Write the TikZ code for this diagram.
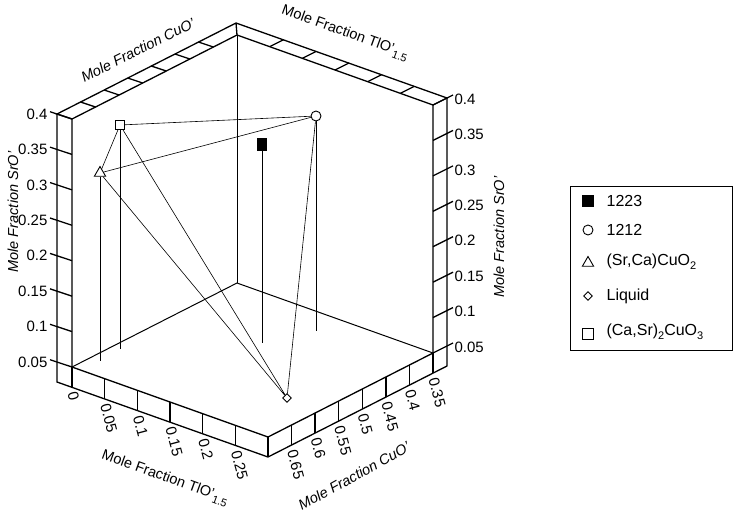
\documentclass[tikz,border=0pt]{standalone}
\usepackage{fontspec}
\setmainfont{Liberation Sans}
\usetikzlibrary{calc,shapes.geometric}
\newcommand{\sbs}[1]{\raisebox{-0.45ex}{\fontsize{11}{12}\selectfont #1}}
\begin{document}
\begin{tikzpicture}[x=1pt,y=-1pt,line width=1.2pt,
  frame/.style={line width=1.3pt},
  thinl/.style={line width=0.6pt},
  ticklab/.style={font=\fontsize{15}{17}\selectfont,inner sep=1pt},
  axlab/.style={font=\fontsize{14.5}{17}\selectfont,inner sep=0pt},
  mk/.style={draw,fill=white,inner sep=0pt,line width=0.9pt},
  sqm/.style={mk,rectangle,minimum size=9pt},
  fsqm/.style={mk,rectangle,fill=black,minimum width=9pt,minimum height=12pt},
  cim/.style={mk,circle,minimum size=10pt},
  trm/.style={mk,regular polygon,regular polygon sides=3,minimum size=13pt},
  dim/.style={mk,diamond,minimum size=9pt},
  entry/.style={font=\fontsize{16}{18}\selectfont,anchor=west,inner sep=0pt}]
\useasboundingbox (0,0) rectangle (735,515);
% frame
\draw[frame] (57,114)--(57,382)--(268,457)--(447,366)--(447,98);
\draw[frame] (72,119)--(72,367)--(268,437)--(433,353)--(433,105);
\draw[frame] (268,437)--(268,457);
\draw[frame] (57,114)--(72,119)--(237,35)--(433,105)--(447,98)--(236,23)--cycle;
\draw[frame] (237,35)--(236,23);
\draw[line width=1pt] (72,367)--(237,283)--(433,353);
\draw[line width=1pt] (237,35)--(237,283);
% top strip ticks
\foreach \c in {0.4,0.45,...,0.66}{
  \pgfmathsetmacro\px{72+471.43*(0.7-\c)}
  \pgfmathsetmacro\py{119-240*(0.7-\c)}
  \draw[frame] (\px,\py)--++(-15,-5);}
\foreach \t in {0.05,0.1,...,0.26}{
  \pgfmathsetmacro\px{237+653.33*\t}
  \pgfmathsetmacro\py{35+233.33*\t}
  \draw[frame] (\px,\py)--++(14,-7);}
% SrO ticks and labels
\foreach \v [count=\k from 0] in {0.05,0.1,0.15,0.2,0.25,0.3,0.35,0.4}{
  \pgfmathsetmacro\ly{362-35.43*\k}
  \pgfmathsetmacro\ry{346-35.43*\k}
  \draw[frame] (50,\ly-2.3)--(72,\ly+5);
  \node[ticklab,anchor=east] (zl\k) at (49,\ly) {\v};
  \draw[frame] (433,\ry+7)--(447,\ry)--(453,\ry-3);
  \node[ticklab,anchor=west] (zr\k) at (453,\ry+1) {\v};}
% TlO floor ticks
\foreach \v [count=\k from 0] in {0,0.05,0.1,0.15,0.2,0.25}{
  \pgfmathsetmacro\px{72+653.33*\v}
  \pgfmathsetmacro\py{367+233.33*\v}
  \draw[frame] (\px,\py)--(\px,\py+20);
  \node[ticklab,anchor=west,rotate=-75] (tl\k) at (\px,\py+24) {\v};}
% CuO floor ticks
\foreach \v [count=\k from 0] in {0.65,0.6,0.55,0.5,0.45,0.4,0.35}{
  \pgfmathsetmacro\px{268+471.43*(0.7-\v)}
  \pgfmathsetmacro\py{437-240*(0.7-\v)}
  \draw[frame] (\px,\py)--(\px,\py+20);
  \node[ticklab,anchor=west,rotate=-75] (cu\k) at (\px,\py+24) {\v};}
% axis titles
\node[axlab,rotate=26.5] (tcu) at (138,50) {\itshape Mole Fraction CuO'};
\node[axlab,rotate=-20] (ttl) at (345,33) {Mole Fraction TlO'\sbs{1.5}};
\node[axlab,rotate=-20] (btl) at (165,478) {Mole Fraction TlO'\sbs{1.5}};
\node[axlab,rotate=29] (bcu) at (354,476) {\itshape Mole Fraction CuO'};
\node[axlab,rotate=90] (lsr) at (13,212) {\itshape Mole Fraction SrO'};
\node[axlab,rotate=90] (rsr) at (499,237) {\itshape Mole Fraction SrO'};
% data
\node[sqm] (sq) at (120,125) {};
\node[trm] (tri) at (100,173) {};
\node[cim] (ci) at (316,116) {};
\node[fsqm] (fs) at (262,144) {};
\node[dim] (di) at (287,398) {};
\coordinate (sqb) at (120,349);
\coordinate (trb) at (100,361);
\coordinate (cib) at (316,331);
\coordinate (fsb) at (262,343);
\draw[line width=1pt] (sq.south)--(sqb) (tri.south)--(trb) (ci.south)--(cib) (fs.south)--(fsb);
\draw[thinl] (sq)--(ci) (tri)--(ci) (sq)--(tri) (sq)--(di) (tri)--(di) (ci)--(di);
% legend
\node[draw,line width=0.9pt,minimum width=162pt,minimum height=164pt,anchor=north west,inner sep=0pt] (leg) at (570,186) {};
\node[fsqm,minimum width=11pt,minimum height=11pt] (l1) at (588,201) {};
\node[entry] (t1) at (606,201) {1223};
\node[cim] (l2) at (588,230) {};
\node[entry] (t2) at (606,230) {1212};
\node[trm] (l3) at (588,263) {};
\node[entry] (t3) at (606,262) {(Sr,Ca)CuO\sbs{2}};
\node[dim] (l4) at (588,296) {};
\node[entry] (t4) at (606,296) {Liquid};
\node[sqm,minimum size=11pt] (l5) at (588,334) {};
\node[entry] (t5) at (606,332) {(Ca,Sr)\sbs{2}CuO\sbs{3}};
\end{tikzpicture}
\end{document}
